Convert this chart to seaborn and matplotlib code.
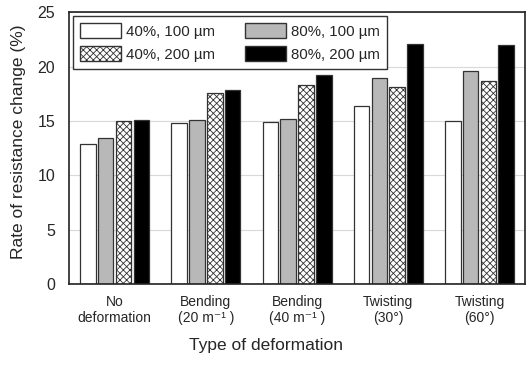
import pandas as pd
import matplotlib
matplotlib.use("Agg")
import matplotlib.pyplot as plt
from matplotlib.patches import Patch
import seaborn as sns

categories = ["No\ndeformation", "Bending\n(20 m\u207b\u00b9 )", "Bending\n(40 m\u207b\u00b9 )",
              "Twisting\n(30\u00b0)", "Twisting\n(60\u00b0)"]
series_names = ["40%, 100 \u00b5m", "80%, 100 \u00b5m", "40%, 200 \u00b5m", "80%, 200 \u00b5m"]
vals_40_100 = [12.9, 14.8, 14.9, 16.4, 15.0]
vals_80_100 = [13.4, 15.1, 15.2, 18.9, 19.6]
vals_40_200 = [15.0, 17.6, 18.3, 18.1, 18.7]
vals_80_200 = [15.1, 17.8, 19.2, 22.1, 22.0]

series_vals = [vals_40_100, vals_80_100, vals_40_200, vals_80_200]
rows = []
for name, vals in zip(series_names, series_vals):
    for cat, v in zip(categories, vals):
        rows.append({"Type": cat, "Series": name, "Value": v})
df = pd.DataFrame(rows)

sns.set_style("white")
plt.rcParams["font.family"] = ["Liberation Sans", "DejaVu Sans"]
plt.rcParams["hatch.color"] = "#555555"
plt.rcParams["hatch.linewidth"] = 0.6

fills = ["white", "#b8b8b8", "white", "black"]
edge = "#333333"

fig = plt.figure(figsize=(5.31, 3.67), dpi=100)
ax = fig.add_axes([0.130, 0.226, 0.859, 0.741])

sns.barplot(data=df, x="Type", y="Value", hue="Series", hue_order=series_names,
            palette=fills, width=0.78, gap=0.13, edgecolor=edge,
            linewidth=0.9, legend=False, ax=ax)

# hatched series
for bar in ax.containers[2]:
    bar.set_hatch("xxxxx")

ax.set_ylim(0, 25)
ax.set_yticks([0, 5, 10, 15, 20, 25])
ax.yaxis.grid(True, color="#d9d9d9", linewidth=0.8)
ax.set_axisbelow(True)
for s in ax.spines.values():
    s.set_color("#222222")
    s.set_linewidth(1.2)
ax.tick_params(axis="y", labelsize=11.5, length=0, pad=10)
ax.tick_params(axis="x", labelsize=10, length=0, pad=8)
ax.set_ylabel("Rate of resistance change (%)", fontsize=12.5)
ax.yaxis.set_label_coords(-0.095, 0.524)
ax.set_xlabel("Type of deformation", fontsize=12.5)
ax.xaxis.set_label_coords(0.431, -0.2)

handles = [
    Patch(facecolor="white", edgecolor=edge, label=series_names[0]),
    Patch(facecolor="white", edgecolor=edge, hatch="xxxxx", label=series_names[2]),
    Patch(facecolor="#b8b8b8", edgecolor=edge, label=series_names[1]),
    Patch(facecolor="black", edgecolor=edge, label=series_names[3]),
]
leg = ax.legend(handles=handles, ncol=2, loc="upper left", fontsize=10.8,
                handlelength=2.7, handleheight=1.15, columnspacing=2.0,
                handletextpad=0.35, labelspacing=0.5, borderpad=0.5,
                borderaxespad=0.25, fancybox=False, framealpha=1)
leg.get_frame().set_edgecolor(edge)
leg.get_frame().set_linewidth(1.0)

fig.savefig("out.png", dpi=100)
